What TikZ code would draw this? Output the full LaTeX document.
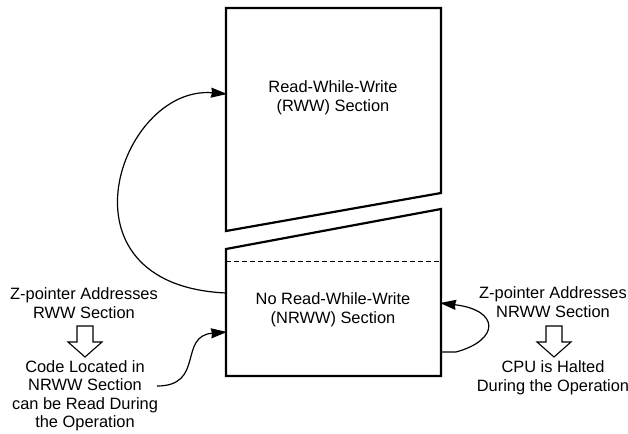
\documentclass[tikz,border=0pt]{standalone}
\usepackage{fontspec}
\setmainfont{Liberation Sans}
\usetikzlibrary{arrows.meta,positioning}

\tikzset{
  bloc/.style={line width=2.2pt, line join=miter},
  fleche/.style={line width=1.2pt, -{Stealth[length=16pt,width=10pt,inset=1pt]}},
  texte/.style={align=center, font=\fontsize{16.4}{18.5}\selectfont, inner sep=0pt},
  creuse/.style={line width=1.1pt, fill=white}
}
% fleche creuse vers le bas
\newcommand{\flechecreuse}[2]{%
  \draw[creuse] (#1-8,#2) -- (#1+8,#2) -- (#1+8,#2+16) -- (#1+17,#2+16)
    -- (#1,#2+31) -- (#1-17,#2+16) -- (#1-8,#2+16) -- cycle;}

\begin{document}
\begin{tikzpicture}[x=1pt,y=-1pt]
        \useasboundingbox (0,0) rectangle (628,433);

        % Blocs
        \coordinate (hg) at (226,8);
        \coordinate (hd) at (441,8);
        \coordinate (bd) at (441,193);
        \coordinate (bg) at (226,231);
        \draw[bloc] (hg) -- (hd) -- (bd) -- (bg) -- cycle;

        \coordinate (nhg) at (226,249);
        \coordinate (nhd) at (441,209);
        \coordinate (nbd) at (441,376);
        \coordinate (nbg) at (226,376);
        \draw[bloc] (nhg) -- (nhd) -- (nbd) -- (nbg) -- cycle;
        \draw[dashed, line width=1pt, dash pattern=on 5pt off 3pt] (226,261) -- (441,261);

        % Textes des blocs
        \node[texte] (rww) at (333,98) {Read-While-Write\\(RWW) Section};
        \node[texte] (nrww) at (333,310) {No Read-While-Write\\(NRWW) Section};

        % Textes a gauche
        \node[texte] (zrww) at (84,303) {Z-pointer Addresses\\RWW Section};
        \node[texte] (code) at (85,396) {Code Located in\\NRWW Section\\can be Read During\\the Operation};
        \flechecreuse{85}{326}

        % Textes a droite
        \node[texte] (znrww) at (553,302) {Z-pointer Addresses\\NRWW Section};
        \node[texte] (cpu) at (553,378) {CPU is Halted\\During the Operation};
        \flechecreuse{554}{326}

        % Fleches
        \coordinate (a1) at (226,293);
        \coordinate (a2) at (227,94);
        \draw[fleche] (a1) .. controls (50,285) and (120,85) .. (a2);

        \coordinate (b1) at (157,386);
        \coordinate (b2) at (227,332);
        \draw[fleche] (b1) .. controls (205,386) and (178,336) .. (b2);

        \coordinate (c1) at (441,352);
        \coordinate (c2) at (440,303);
        \draw[fleche] (c1) -- (456,352) .. controls (500,340) and (500,310) .. (c2);
    \end{tikzpicture}
\end{document}
